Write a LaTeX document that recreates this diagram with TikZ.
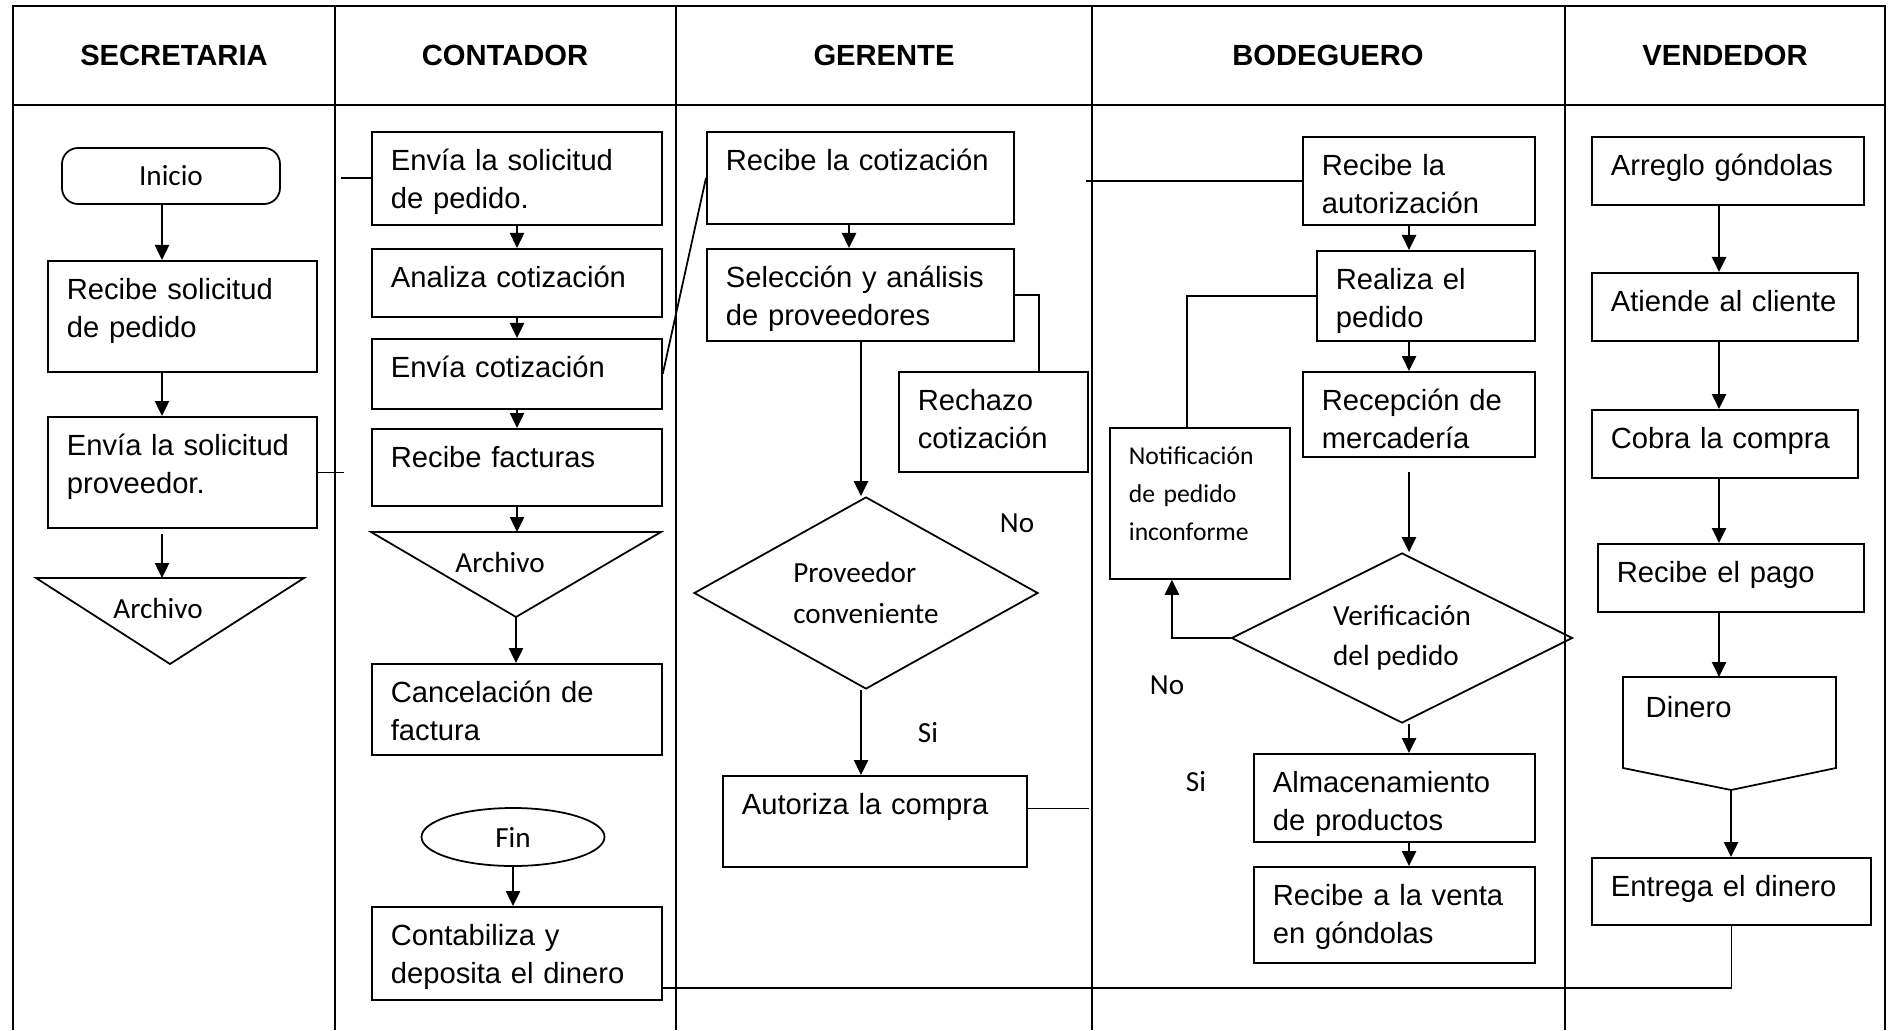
\documentclass[tikz,border=0pt]{standalone}
\usepackage{fontspec}
\usepackage{tikz}
\usetikzlibrary{arrows.meta,shapes.geometric}

\newfontfamily\arialfam{Liberation Sans}
\newfontfamily\califam{Carlito}
\newcommand{\fcaja}{\arialfam\fontsize{8.3}{10.8}\selectfont}
\newcommand{\fcal}{\califam\fontsize{8.3}{11.4}\selectfont}
\newcommand{\fnotif}{\califam\fontsize{7.3}{10.7}\selectfont}
\newcommand{\fhead}{\arialfam\bfseries\fontsize{8.3}{10}\selectfont}

\tikzset{
	caja/.style 2 args={draw, line width=0.5pt, anchor=north west, align=left, font=\fcaja,
		inner xsep=1.9mm, inner ysep=0pt, text width=#1, text height=3.9mm, text depth=#2},
	decision/.style={draw, diamond, line width=0.5pt, inner sep=0pt, align=left, font=\fcal},
	flecha/.style={line width=0.7pt, -{Triangle[length=1.5mm,width=1.4mm]}},
	linea/.style={line width=0.5pt},
	tabla/.style={line width=0.7pt},
}

\begin{document}
\begin{tikzpicture}[x=0.1mm, y=-0.1mm]
	\useasboundingbox (0,0) rectangle (1890,1030);

	\draw[tabla] (13,1030) -- (13,6) -- (1885,6) -- (1885,1030);
	\draw[tabla] (13,105) -- (1885,105);
	\foreach \x in {335,676,1092,1565}
		\draw[tabla] (\x,6) -- (\x,1030);

	\node[font=\fhead] (hsec) at (174,55) {SECRETARIA};
	\node[font=\fhead] (hcont) at (505,55) {CONTADOR};
	\node[font=\fhead] (hger) at (884,55) {GERENTE};
	\node[font=\fhead] (hbod) at (1328,55) {BODEGUERO};
	\node[font=\fhead] (hvend) at (1725,55) {VENDEDOR};

	\coordinate (ejeS) at (162,0);
	\coordinate (ejeC) at (517,0);
	\coordinate (ejeGa) at (849,0);
	\coordinate (ejeG) at (861,0);
	\coordinate (ejeB) at (1409,0);
	\coordinate (ejeV) at (1719,0);

	% secretaria
	\node[draw, rounded corners=1.6mm, line width=0.5pt, minimum width=21.8mm, minimum height=5.6mm, font=\fcal] (inicio) at (171,176) {Inicio};
	\node[caja={23.1mm}{7.2mm}] (recsol) at (47,260) {Recibe solicitud\\de pedido};
	\node[caja={23.1mm}{7.2mm}] (envprov) at (47,416) {Envía la solicitud\\proveedor.};
	\coordinate (t1a) at (36,578);
	\coordinate (t1b) at (304,578);
	\coordinate (t1c) at (170,664);
	\draw[linea] (t1a) -- (t1b) -- (t1c) -- cycle;
	\node[font=\fcal] (arch1) at (158,608) {Archivo};

	\draw[flecha] (inicio.south -| ejeS) -- (recsol.north -| ejeS);
	\draw[flecha] (recsol.south -| ejeS) -- (envprov.north -| ejeS);
	\draw[flecha, shorten <=0.5mm] (envprov.south -| ejeS) -- (t1a -| ejeS);
	\draw[linea] (envprov.east) -- ++(26,0);

	% contador
	\node[caja={25.2mm}{5.4mm}] (envped) at (371,131) {Envía la solicitud\\de pedido.};
	\node[caja={25.2mm}{2.9mm}] (analiza) at (371,248) {Analiza cotización};
	\node[caja={25.2mm}{3.1mm}] (envcot) at (371,338) {Envía cotización};
	\node[caja={25.2mm}{3.8mm}] (recfac) at (371,428) {Recibe facturas};
	\coordinate (t2a) at (371,532);
	\coordinate (t2b) at (661,532);
	\coordinate (t2c) at (516,617);
	\draw[linea] (t2a) -- (t2b) -- (t2c) -- cycle;
	\node[font=\fcal] (arch2) at (500,562) {Archivo};
	\node[caja={25.2mm}{5.2mm}] (cancel) at (371,663) {Cancelación de\\factura};
	\node[draw, ellipse, line width=0.5pt, minimum width=18.3mm, minimum height=5.8mm, inner sep=0pt, font=\fcal] (fin) at (513,837) {Fin};
	\node[caja={25.2mm}{5.4mm}] (contab) at (371,906) {Contabiliza y\\deposita el dinero};

	\draw[linea] (envped.west) -- ++(-30,0);
	\draw[flecha] (envped.south -| ejeC) -- (analiza.north -| ejeC);
	\draw[flecha] (analiza.south -| ejeC) -- (envcot.north -| ejeC);
	\draw[flecha] (envcot.south -| ejeC) -- (recfac.north -| ejeC);
	\draw[flecha] (recfac.south -| ejeC) -- (t2a -| ejeC);
	\draw[flecha] (t2c) -- (t2c |- cancel.north);
	\draw[flecha] (fin.south) -- (fin.south |- contab.north);

	% gerente
	\node[caja={26.9mm}{5.3mm}] (reccot) at (706,131) {Recibe la cotización};
	\node[caja={26.9mm}{5.3mm}] (selec) at (706,248) {Selección y análisis\\de proveedores};
	\node[caja={15.1mm}{6.1mm}] (rechazo) at (898,371) {Rechazo\\cotización};
	\node[decision, aspect=1.8, minimum width=34.4mm, minimum height=19.2mm] (provconv) at (866,593) {Proveedor\\conveniente};
	\node[caja={26.6mm}{5.2mm}] (autoriza) at (722,775) {Autoriza la compra};
	\node[font=\fcal] (nog) at (1017,523) {No};
	\node[font=\fcal] (sig) at (928,733) {Si};

	\draw[linea] (envcot.east) -- (reccot.west);
	\draw[flecha] (reccot.south -| ejeGa) -- (selec.north -| ejeGa);
	\draw[linea] (selec.east) -| ([xshift=4.55mm]rechazo.north);
	\draw[flecha] (selec.south -| ejeG) -- (provconv.north -| ejeG);
	\draw[flecha] (provconv.south -| ejeG) -- (autoriza.north -| ejeG);
	\draw[linea] ([yshift=1.3mm]autoriza.east) -- ++(61,0);

	% bodeguero
	\node[caja={19.4mm}{4.9mm}] (recaut) at (1302,136) {Recibe la\\autorización};
	\node[caja={18.0mm}{5.1mm}] (realiza) at (1316,250) {Realiza el\\pedido};
	\node[caja={19.4mm}{4.6mm}] (recep) at (1302,371) {Recepción de\\mercadería};
	\node[caja={14.2mm}{11.4mm}, font=\fnotif, text height=3.7mm] (notif) at (1109,427) {Notificación\\de pedido\\inconforme};
	\node[decision, aspect=2, minimum width=34.1mm, minimum height=17mm] (verif) at (1402,638) {Verificación\\del pedido};
	\node[caja={24.3mm}{4.9mm}] (almac) at (1253,753) {Almacenamiento\\de productos};
	\node[caja={24.3mm}{5.7mm}] (recventa) at (1253,866) {Recibe a la venta\\en góndolas};
	\node[font=\fcal] (nob) at (1167,685) {No};
	\node[font=\fcal] (sib) at (1196,782) {Si};

	\draw[linea] (recaut.west) -- ++(-216,0);
	\draw[flecha] (recaut.south -| ejeB) -- (realiza.north -| ejeB);
	\draw[flecha] (realiza.south -| ejeB) -- (recep.north -| ejeB);
	\draw[flecha, shorten <=1.4mm] (recep.south -| ejeB) -- (verif.north -| ejeB);
	\draw[flecha] (verif.south -| ejeB) -- (almac.north -| ejeB);
	\draw[flecha] (almac.south -| ejeB) -- (recventa.north -| ejeB);
	\draw[linea] ([xshift=-1.3mm]notif.north) |- (realiza.west);
	\draw[flecha] (verif.west) -| ([xshift=-2.8mm]notif.south);

	% vendedor
	\node[caja={23.4mm}{2.9mm}] (arreglo) at (1591,136) {Arreglo góndolas};
	\node[caja={22.8mm}{2.9mm}] (atiende) at (1591,272) {Atiende al cliente};
	\node[caja={22.8mm}{2.9mm}] (cobra) at (1591,409) {Cobra la compra};
	\node[caja={22.8mm}{2.9mm}] (recpago) at (1597,543) {Recibe el pago};
	\coordinate (din1) at (1623,677);
	\coordinate (din2) at (1836,677);
	\coordinate (din3) at (1836,768);
	\coordinate (din4) at (1731,790);
	\coordinate (din5) at (1623,768);
	\draw[linea] (din1) -- (din2) -- (din3) -- (din4) -- (din5) -- cycle;
	\node[anchor=base west, inner sep=0pt, font=\fcaja] (dinero) at (1645,717) {Dinero};
	\node[caja={24.1mm}{2.8mm}] (entrega) at (1591,857) {Entrega el dinero};

	\draw[flecha] (arreglo.south -| ejeV) -- (atiende.north -| ejeV);
	\draw[flecha] (atiende.south -| ejeV) -- (cobra.north -| ejeV);
	\draw[flecha] (cobra.south -| ejeV) -- (recpago.north -| ejeV);
	\draw[flecha] (recpago.south -| ejeV) -- (din1 -| ejeV);
	\draw[flecha] (din4) -- (din4 |- entrega.north);
	\draw[linea] (entrega.south) |- ([yshift=-3.45mm]contab.east);
\end{tikzpicture}
\end{document}
